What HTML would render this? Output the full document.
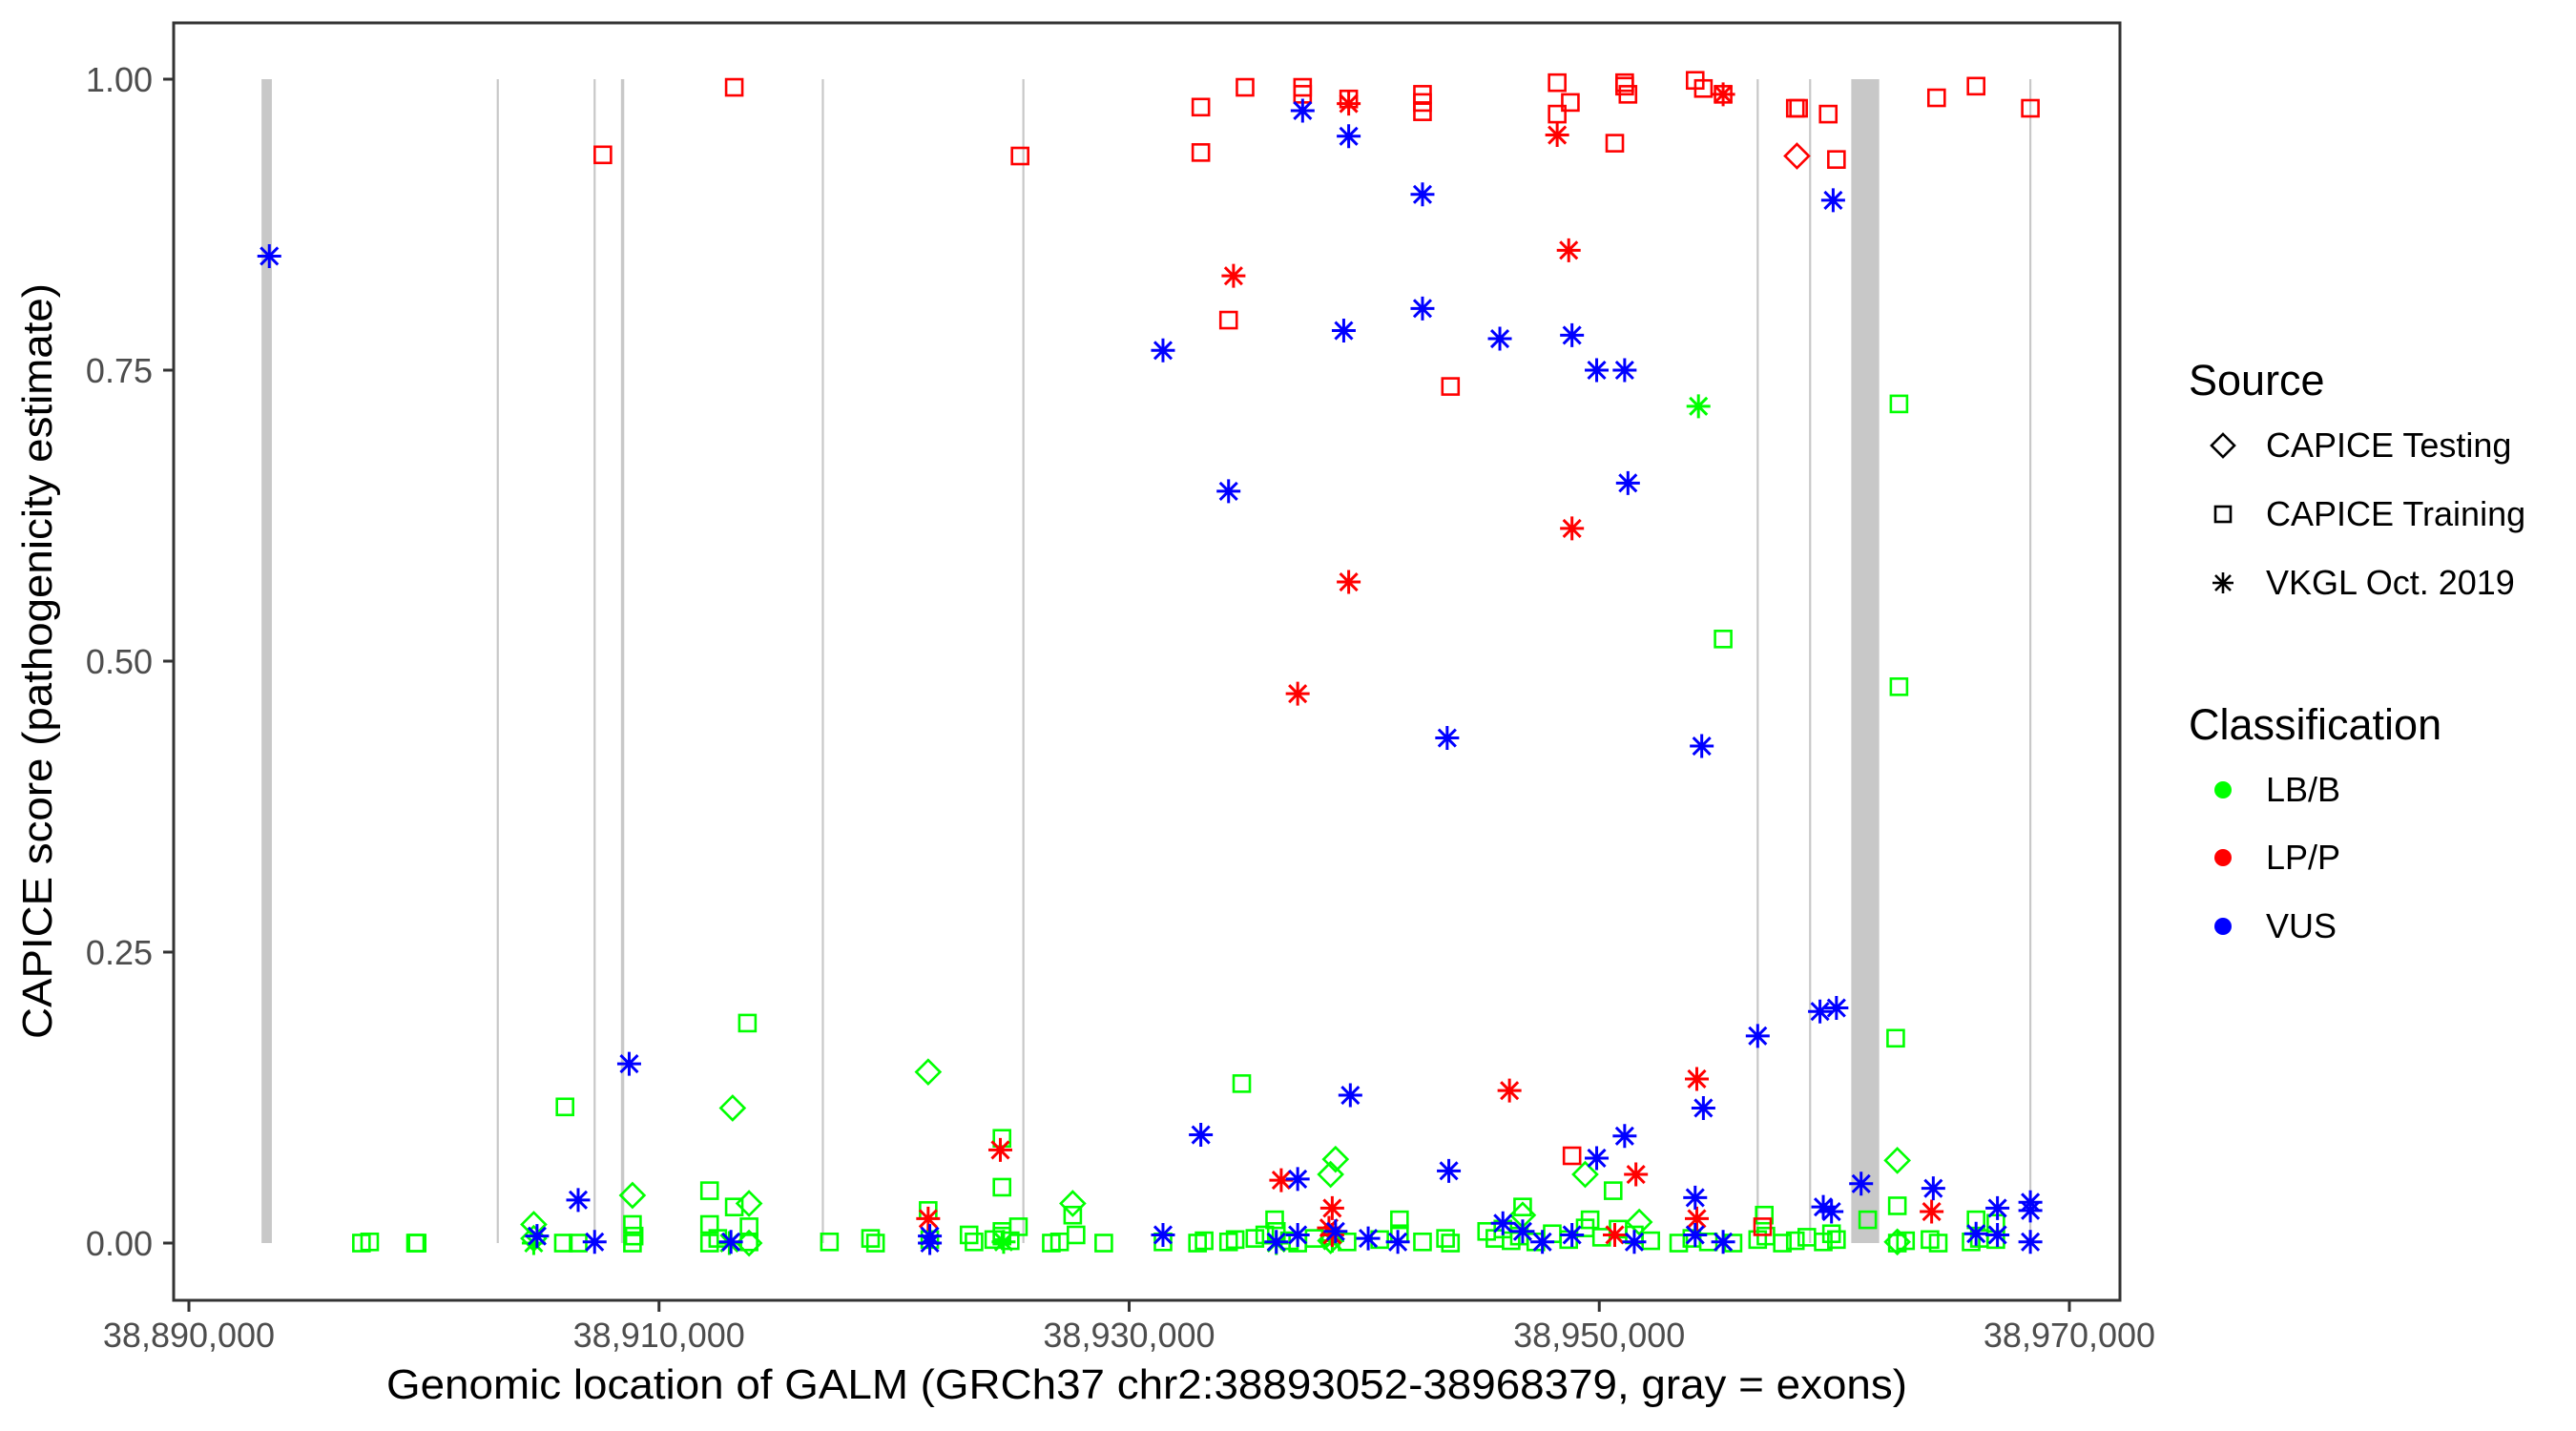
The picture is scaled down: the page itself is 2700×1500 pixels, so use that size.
<!DOCTYPE html>
<html><head><meta charset="utf-8"><style>
html,body{margin:0;padding:0;background:#fff;}
svg{display:block;font-family:"Liberation Sans",Arial,sans-serif;}
</style></head><body>
<svg id="chart" width="2700" height="1500" viewBox="0 0 2700 1500" xmlns="http://www.w3.org/2000/svg">
<rect x="0" y="0" width="2700" height="1500" fill="#fff"/>
<g id="exons"></g>
<g id="points"></g>
<rect x="182" y="24" width="2040" height="1339" fill="none" stroke="#333" stroke-width="3"/>
<g id="yaxis"></g>
<g id="xaxis"></g>
<text x="1202" y="1466" text-anchor="middle" font-size="44" textLength="1594" lengthAdjust="spacingAndGlyphs" fill="#000">Genomic location of GALM (GRCh37 chr2:38893052-38968379, gray = exons)</text>
<text transform="translate(54,693) rotate(-90)" text-anchor="middle" font-size="44" textLength="792" lengthAdjust="spacingAndGlyphs" fill="#000">CAPICE score (pathogenicity estimate)</text>
<g>
<text x="2294" y="414" font-size="45" fill="#000">Source</text>
<g>
<path d="M2330,455 L2342,467 L2330,479 L2318,467 Z" fill="none" stroke="#000" stroke-width="2.6"/>
<text x="2375" y="479" font-size="36" fill="#000">CAPICE Testing</text></g>
<g>
<rect x="2322" y="531" width="16" height="16" fill="none" stroke="#000" stroke-width="2.6"/>
<text x="2375" y="551" font-size="36" fill="#000">CAPICE Training</text></g>
<g>
<path d="M2330,600 V622 M2319,611 H2341 M2322,603 L2338,619 M2338,603 L2322,619" stroke="#000" stroke-width="2.6"/>
<text x="2375" y="623" font-size="36" fill="#000">VKGL Oct. 2019</text></g>
<text x="2294" y="775" font-size="45" fill="#000">Classification</text>
<g><circle cx="2330" cy="828" r="9" fill="#00ff00"/><text x="2375" y="840" font-size="36" fill="#000">LB/B</text></g>
<g><circle cx="2330" cy="899" r="9" fill="#ff0000"/><text x="2375" y="911" font-size="36" fill="#000">LP/P</text></g>
<g><circle cx="2330" cy="971" r="9" fill="#0000ff"/><text x="2375" y="983" font-size="36" fill="#000">VUS</text></g>
</g>
</svg>
<script>
// Positions in kb (thousands of bp)
const xTicks = [38890, 38910, 38930, 38950, 38970];
const xTickLabels = ["38,890,000", "38,910,000", "38,930,000", "38,950,000", "38,970,000"];
const yTicks = [0, 0.25, 0.5, 0.75, 1];
const yTickLabels = ["0.00", "0.25", "0.50", "0.75", "1.00"];
const exonStart = [38893.09, 38903.10, 38907.22, 38908.38, 38916.93, 38925.46, 38956.70, 38958.93, 38960.72, 38968.30];
const exonEnd   = [38893.53, 38903.18, 38907.30, 38908.52, 38917.01, 38925.54, 38956.78, 38959.01, 38961.91, 38968.38];

const testingLbbX = [38921.45,38913.13,38908.87,38913.83,38904.67,38927.60,38938.78,38938.57,38949.40,38962.68,38951.70,38946.74,38904.67,38913.83,38938.57,38962.68];
const testingLbbY = [0.147,0.116,0.041,0.034,0.016,0.034,0.072,0.059,0.059,0.071,0.018,0.024,0.004,0,0.002,0.001];
const testingLppX = [38958.41];
const testingLppY = [0.934];

const trainingLbbX = [38962.75,38955.27,38962.75,38962.61,38913.76,38906.00,38934.79,38924.59,38924.59,38912.15,38913.20,38908.87,38912.15,38921.45,38927.60,38936.19,38941.50,38946.74,38949.61,38950.59,38962.68,38961.42,38957.02,38966.03,38966.87,38913.83,38924.59,
38897.34,38897.69,38899.64,38899.71,38905.93,38906.56,38908.87,38908.94,38912.15,38912.50,38913.83,38917.25,38919.00,38919.21,38921.52,38923.19,38923.40,38924.24,38924.59,38924.94,38925.29,38926.69,38927.04,38927.74,38928.92,38931.44,38932.91,38933.19,38934.23,38934.51,38935.35,38935.77,38936.26,38936.82,38937.17,38937.87,38938.57,38939.27,38940.66,38941.50,38942.48,38943.46,38943.67,38945.21,38945.56,38945.90,38946.25,38946.60,38947.30,38948.00,38948.70,38949.40,38950.10,38950.80,38951.49,38952.19,38953.38,38953.94,38954.64,38955.69,38956.74,38957.09,38957.79,38958.34,38958.83,38959.53,38959.88,38960.09,38962.68,38963.03,38964.07,38964.42,38965.82,38966.17,38966.87];
const trainingLbbY = [0.721,0.519,0.478,0.176,0.189,0.117,0.137,0.090,0.048,0.045,0.031,0.016,0.016,0.028,0.024,0.020,0.020,0.031,0.020,0.045,0.032,0.020,0.024,0.020,0.017,0.014,0.010,
0,0.001,0,0,0,0,0,0.006,0,0.004,0.001,0.001,0.004,0,0.003,0.007,0.001,0.003,0.006,0.002,0.014,0,0.001,0.007,0,0.001,0,0.002,0.001,0.003,0.004,0.007,0.01,0.002,0,0.004,0.006,0.001,0.003,0.008,0.001,0.004,0,0.01,0.004,0.012,0.002,0.006,0.001,0.008,0.003,0.013,0.005,0.012,0.007,0.002,0,0.004,0.001,0,0.003,0.006,0,0.002,0.005,0.001,0.008,0.003,0,0.002,0.003,0,0.001,0.004,0.003];
const trainingLppX = [38913.20,38907.61,38925.36,38933.05,38933.05,38934.93,38937.38,38937.38,38939.34,38942.48,38942.48,38942.48,38948.21,38948.21,38948.77,38950.66,38951.08,38951.08,38951.22,38954.08,38954.43,38955.27,38958.34,38958.48,38959.74,38960.09,38964.35,38966.03,38968.34,38934.23,38943.67,38948.84,38956.95];
const trainingLppY = [0.993,0.935,0.934,0.976,0.937,0.993,0.993,0.987,0.983,0.987,0.980,0.972,0.997,0.970,0.980,0.945,0.997,0.994,0.987,0.999,0.992,0.987,0.975,0.975,0.970,0.931,0.984,0.994,0.975,0.793,0.736,0.075,0.014];

const vkglLbbX = [38954.22,38904.67,38912.99,38924.66,38938.64,38936.26];
const vkglLbbY = [0.719,0,0,0.001,0.002,0];
const vkglLppX = [38939.34,38948.21,38955.27,38934.44,38948.70,38948.84,38939.34,38937.17,38936.47,38938.64,38938.50,38946.18,38951.56,38954.15,38964.14,38924.52,38921.45,38954.15,38950.66,38938.64];
const vkglLppY = [0.979,0.952,0.987,0.831,0.853,0.614,0.568,0.472,0.054,0.030,0.013,0.131,0.059,0.141,0.027,0.080,0.021,0.021,0.007,0.007];
const vkglVusX = [38893.42,38937.38,38939.34,38942.48,38959.95,38931.44,38942.48,38939.13,38945.77,38948.84,38949.89,38951.08,38934.23,38951.22,38943.53,38954.36,38956.74,38959.39,38960.09,38908.73,38939.41,38933.05,38943.60,38937.17,38951.08,38949.89,38954.43,38961.14,38964.21,38959.53,38959.88,38966.94,38968.34,38968.34,38906.56,38954.08,38907.26,38904.81,38921.52,38921.52,38931.44,38936.26,38937.17,38940.17,38941.43,38945.90,38946.74,38947.58,38948.84,38951.49,38954.08,38955.27,38966.03,38966.94,38968.34,38913.06,38938.78];
const vkglVusY = [0.848,0.973,0.951,0.901,0.896,0.767,0.803,0.784,0.777,0.780,0.750,0.750,0.646,0.653,0.434,0.427,0.178,0.199,0.202,0.154,0.127,0.093,0.062,0.055,0.092,0.073,0.116,0.051,0.047,0.031,0.027,0.030,0.035,0.028,0.037,0.039,0.001,0.006,0.006,0,0.007,0.001,0.007,0.004,0.001,0.017,0.010,0.001,0.007,0.001,0.007,0.001,0.008,0.007,0.001,0.001,0.010];

const NS = "http://www.w3.org/2000/svg";
const X0 = 198, PXKB = 1971 / 80;
function xScale(kb){ return X0 + (kb - 38890) * PXKB; }
function yScale(v){ return 1303 - 1220 * v; }
function mk(tag, attrs, parent){ const e = document.createElementNS(NS, tag); for (const k in attrs) e.setAttribute(k, attrs[k]); parent.appendChild(e); return e; }

const exG = document.getElementById('exons');
for (let i = 0; i < exonStart.length; i++){
  const x1 = xScale(exonStart[i]), x2 = xScale(exonEnd[i]);
  const w = Math.max(2.2, x2 - x1);
  const r = mk('rect', {x: (x1 + x2) / 2 - w / 2, y: yScale(1), width: w, height: yScale(0) - yScale(1), fill: '#c8c8c8'}, exG);
  
  
}

const yG = document.getElementById('yaxis');
yTicks.forEach((v, i) => {
  const y = yScale(v);
  const t = mk('line', {x1: 171, x2: 182, y1: y, y2: y, stroke: '#333', 'stroke-width': 3}, yG);
  
  
  const l = mk('text', {x: 160, y: y + 13, 'text-anchor': 'end', 'font-size': 36, fill: '#4d4d4d'}, yG);
  l.textContent = yTickLabels[i];
  
  
});
const xG = document.getElementById('xaxis');
xTicks.forEach((v, i) => {
  const x = xScale(v);
  const t = mk('line', {x1: x, x2: x, y1: 1363, y2: 1375, stroke: '#333', 'stroke-width': 3}, xG);
  
  
  const l = mk('text', {x: x, y: 1412, 'text-anchor': 'middle', 'font-size': 36, fill: '#4d4d4d'}, xG);
  l.textContent = xTickLabels[i];
  
  
});

const pG = document.getElementById('points');
function drawShape(shape, cx, cy, color){
  let e;
  if (shape === 'square') e = mk('rect', {x: cx - 8.5, y: cy - 8.5, width: 17, height: 17, fill: 'none', stroke: color, 'stroke-width': 2.6}, pG);
  else if (shape === 'diamond') e = mk('path', {d: `M${cx},${cy-12.5} L${cx+12.5},${cy} L${cx},${cy+12.5} L${cx-12.5},${cy} Z`, fill: 'none', stroke: color, 'stroke-width': 2.6}, pG);
  else e = mk('path', {d: `M${cx},${cy-12.5} V${cy+12.5} M${cx-12.5},${cy} H${cx+12.5} M${cx-9},${cy-9} L${cx+9},${cy+9} M${cx+9},${cy-9} L${cx-9},${cy+9}`, stroke: color, 'stroke-width': 3, fill: 'none'}, pG);
  return e;
}
function drawSeries(xs, ys, shape, color, name){
  for (let i = 0; i < xs.length; i++){
    const e = drawShape(shape, xScale(xs[i]), yScale(ys[i]), color);
    
    
  }
}
const G = '#00ff00', R = '#ff0000', B = '#0000ff';
drawSeries(trainingLbbX, trainingLbbY, 'square', G, 'point-training-lbb');
drawSeries(testingLbbX, testingLbbY, 'diamond', G, 'point-testing-lbb');
drawSeries(vkglLbbX, vkglLbbY, 'star', G, 'point-vkgl-lbb');
drawSeries(trainingLppX, trainingLppY, 'square', R, 'point-training-lpp');
drawSeries(testingLppX, testingLppY, 'diamond', R, 'point-testing-lpp');
drawSeries(vkglLppX, vkglLppY, 'star', R, 'point-vkgl-lpp');
drawSeries(vkglVusX, vkglVusY, 'star', B, 'point-vkgl-vus');
</script>
</body></html>
